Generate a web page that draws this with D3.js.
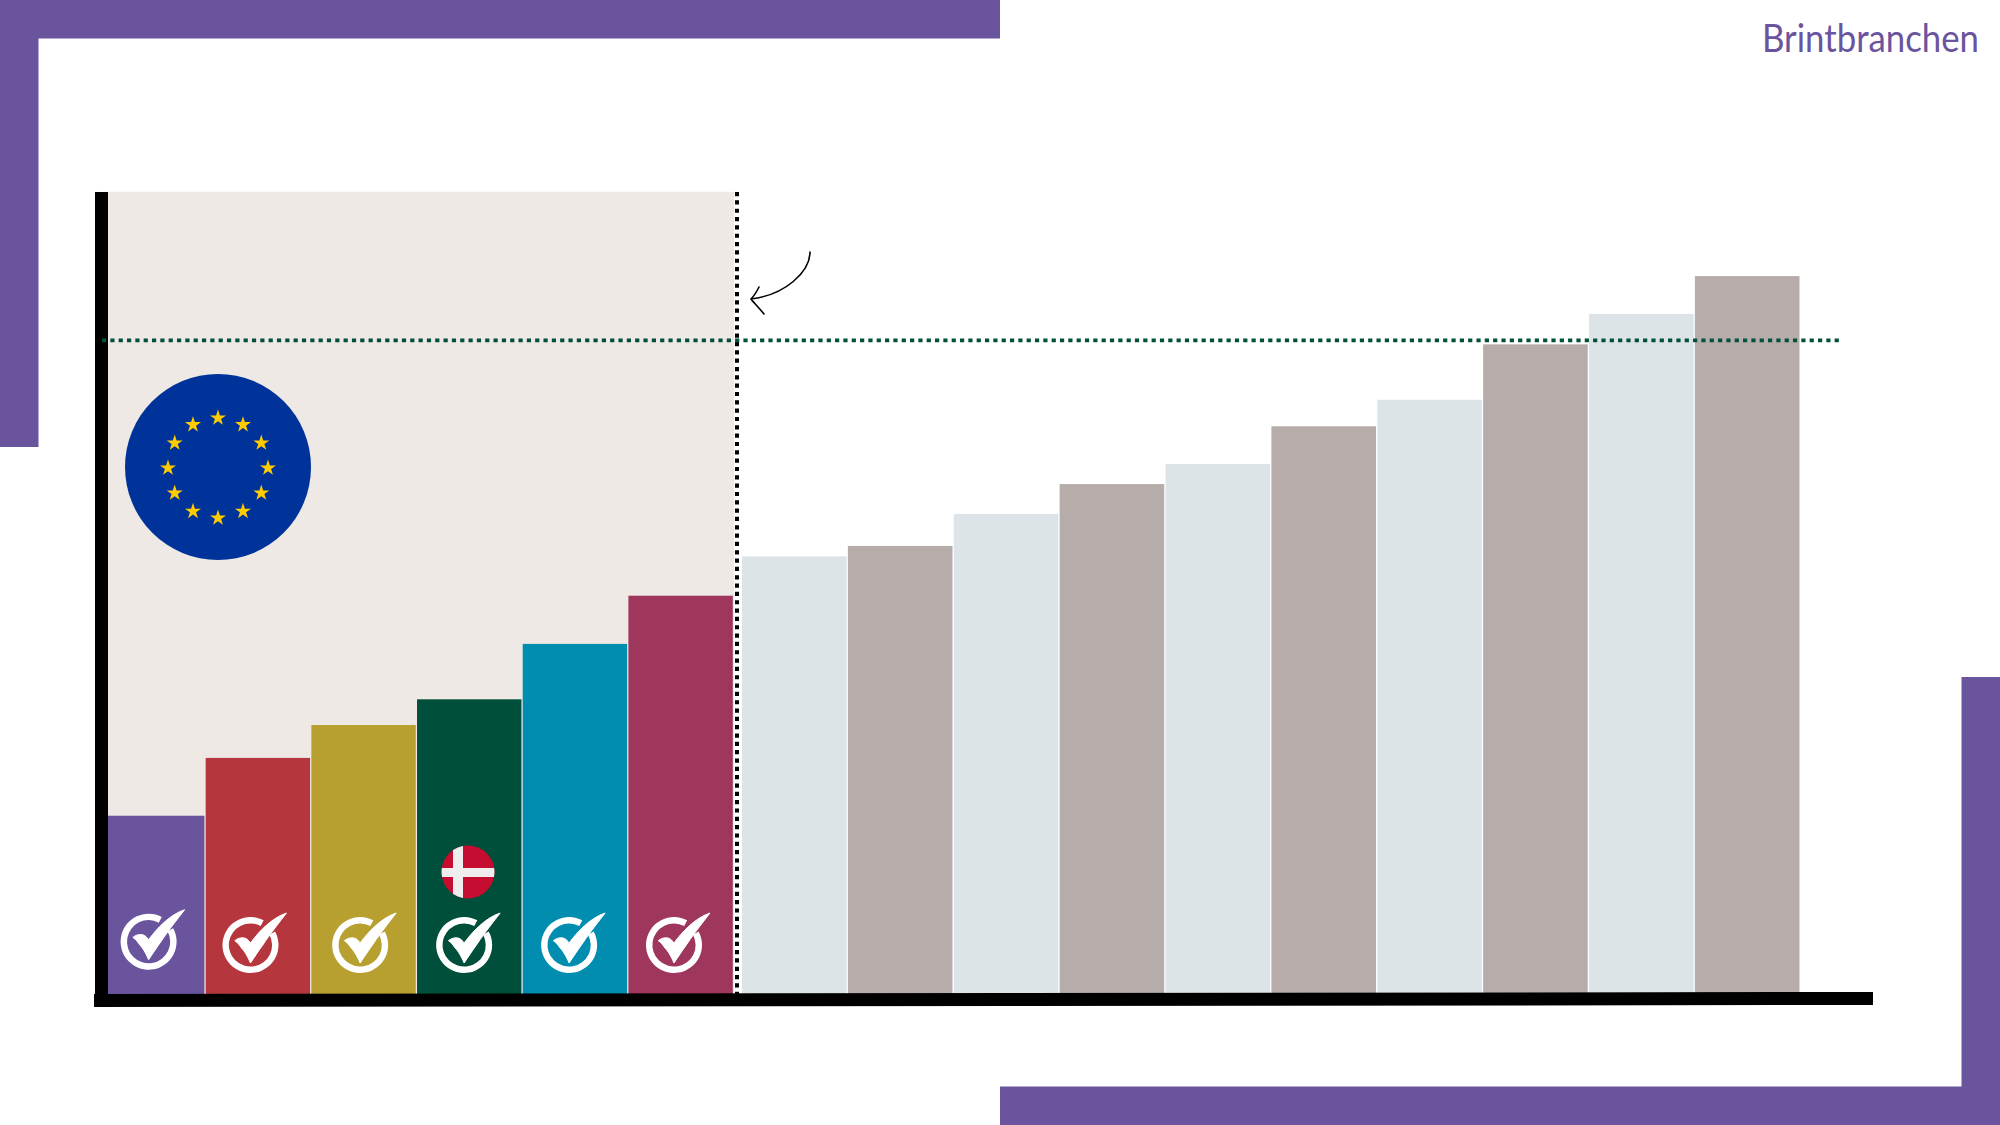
<!DOCTYPE html>
<html><head><meta charset="utf-8">
<script src="https://cdnjs.cloudflare.com/ajax/libs/d3/7.8.5/d3.min.js"></script>
<style>html,body{margin:0;padding:0;background:#fff}svg{display:block}</style>
</head><body><svg id="c" width="2000" height="1125"></svg>
<script>
// Values (percent of the plot height)
const euCategories = ["a","b","c","d","e","f"];
const euValues = [22.2,29.4,33.5,36.7,43.6,49.6];
const euColors = ["#6b549e","#b5363c","#b8a030","#004f3a","#008db0","#9e365d"];
const otherCategories = ["g","h","i","j","k","l","m","n","o","p"];
const otherValues = [54.5,55.8,59.8,63.5,66.0,70.7,74.0,80.9,84.7,89.4];
const otherColors = ["#dde4e7","#b6acaa"];
const targetValue = 81.4;

const svg = d3.select("#c");
const purple = "#6b549e";
const y = d3.scaleLinear().domain([0,100]).range([994,191]);
const xEu = d3.scaleBand().domain(euCategories).range([100,732.8]).paddingInner(0.012);
const xOther = d3.scaleBand().domain(otherCategories).range([742,1799.5]).paddingInner(0.012);

// frame
[[0,0,1000,38.5],[0,0,38.5,447],[1000,1086.5,1000,38.5],[1961.5,677,38.5,448]].forEach(r=>
  svg.append("rect").attr("x",r[0]).attr("y",r[1]).attr("width",r[2]).attr("height",r[3]).attr("fill",purple));
svg.append("text").attr("x",1979).attr("y",52).attr("text-anchor","end")
  .attr("font-family","Lato").attr("font-size",38).attr("fill",purple)
  .attr("textLength",217).attr("lengthAdjust","spacingAndGlyphs").text("Brintbranchen");

// shaded region
svg.append("rect").attr("x",100).attr("y",y(99.9)).attr("width",634).attr("height",y(0)-y(99.9)).attr("fill","#eee9e5");

// bars
svg.append("g").selectAll("rect").data(euCategories).join("rect")
  .attr("x",d=>xEu(d)).attr("width",xEu.bandwidth())
  .attr("y",(d,i)=>y(euValues[i])).attr("height",(d,i)=>y(0)-y(euValues[i]))
  .attr("fill",(d,i)=>euColors[i]);
svg.append("g").selectAll("rect").data(otherCategories).join("rect")
  .attr("x",d=>xOther(d)).attr("width",xOther.bandwidth())
  .attr("y",(d,i)=>y(otherValues[i])).attr("height",(d,i)=>y(0)-y(otherValues[i]))
  .attr("fill",(d,i)=>otherColors[i%2]);

// axes
svg.append("line").attr("x1",101.5).attr("x2",101.5).attr("y1",192).attr("y2",1004).attr("stroke","#000").attr("stroke-width",13);
svg.append("line").attr("x1",94).attr("x2",1873).attr("y1",1000.5).attr("y2",998.5).attr("stroke","#000").attr("stroke-width",13);

// dotted lines
svg.append("line").attr("x1",737).attr("x2",737).attr("y1",192).attr("y2",994)
  .attr("stroke","#000").attr("stroke-width",4).attr("stroke-dasharray","4.2 4.13");
svg.append("line").attr("x1",102).attr("x2",1840).attr("y1",y(targetValue)).attr("y2",y(targetValue))
  .attr("stroke","#00503a").attr("stroke-width",3.7).attr("stroke-dasharray","4.2 4.13");

// EU flag
const eu = svg.append("g").attr("transform","translate(218,467)");
eu.append("circle").attr("r",93).attr("fill","#003399");
const star = d3.symbol().type(d3.symbolStar).size(80);
d3.range(12).forEach(i=>{
  const a = i*Math.PI/6;
  eu.append("path").attr("d",star()).attr("fill","#ffcc00")
    .attr("transform",`translate(${50*Math.sin(a)},${1-50*Math.cos(a)})`);
});

// DK flag
const defs = svg.append("defs");
defs.append("clipPath").attr("id","dk").append("circle").attr("r",26.5);
const dk = svg.append("g").attr("transform","translate(468,872)").append("g").attr("clip-path","url(#dk)");
dk.append("rect").attr("x",-27).attr("y",-27).attr("width",54).attr("height",54).attr("fill","#c60c30");
dk.append("rect").attr("x",-15).attr("y",-27).attr("width",10).attr("height",54).attr("fill","#eeeeee");
dk.append("rect").attr("x",-27).attr("y",-4).attr("width",54).attr("height",9).attr("fill","#eeeeee");

// check marks
const checkX = euCategories.map(d=>xEu(d)+xEu.bandwidth()/2);
const checkDx = [-3.6,-7.4,-3.4,-5.1,-5.8,-6.6];
const checkDy = [-3.3,0,0,0,0,0];
const ring = d3.arc().innerRadius(21.6).outerRadius(28).startAngle(1.07).endAngle(2*Math.PI+0.49);
euCategories.forEach((d,i)=>{
  const g = svg.append("g").attr("transform",`translate(${checkX[i]+checkDx[i]},${945+checkDy[i]})`);
  g.append("path").attr("d",ring()).attr("fill","#fff");
  g.append("path").attr("fill","#fff").attr("stroke","#fff").attr("stroke-width",1).attr("stroke-linejoin","round")
    .attr("d","M-15.7,-4.3 C-12,-7.5 -6,-8.5 -2.5,-5 L0,-2 C8,-13 21,-27 36,-32 C30,-24 21,-13 13,-1 C8,6 4,12 0,18 C-3,11 -6,6 -9,3 C-11,0 -13,-2.5 -15.7,-4.3 Z");
});

// arrow
svg.append("path").attr("fill","none").attr("stroke","#000").attr("stroke-width",1.6).attr("stroke-linecap","round")
  .attr("d","M810,252 C810,272 785,295 751,299 M759,287 C757,291 755,295 751,299 C755,304 760,309 764,314");
</script></body></html>
